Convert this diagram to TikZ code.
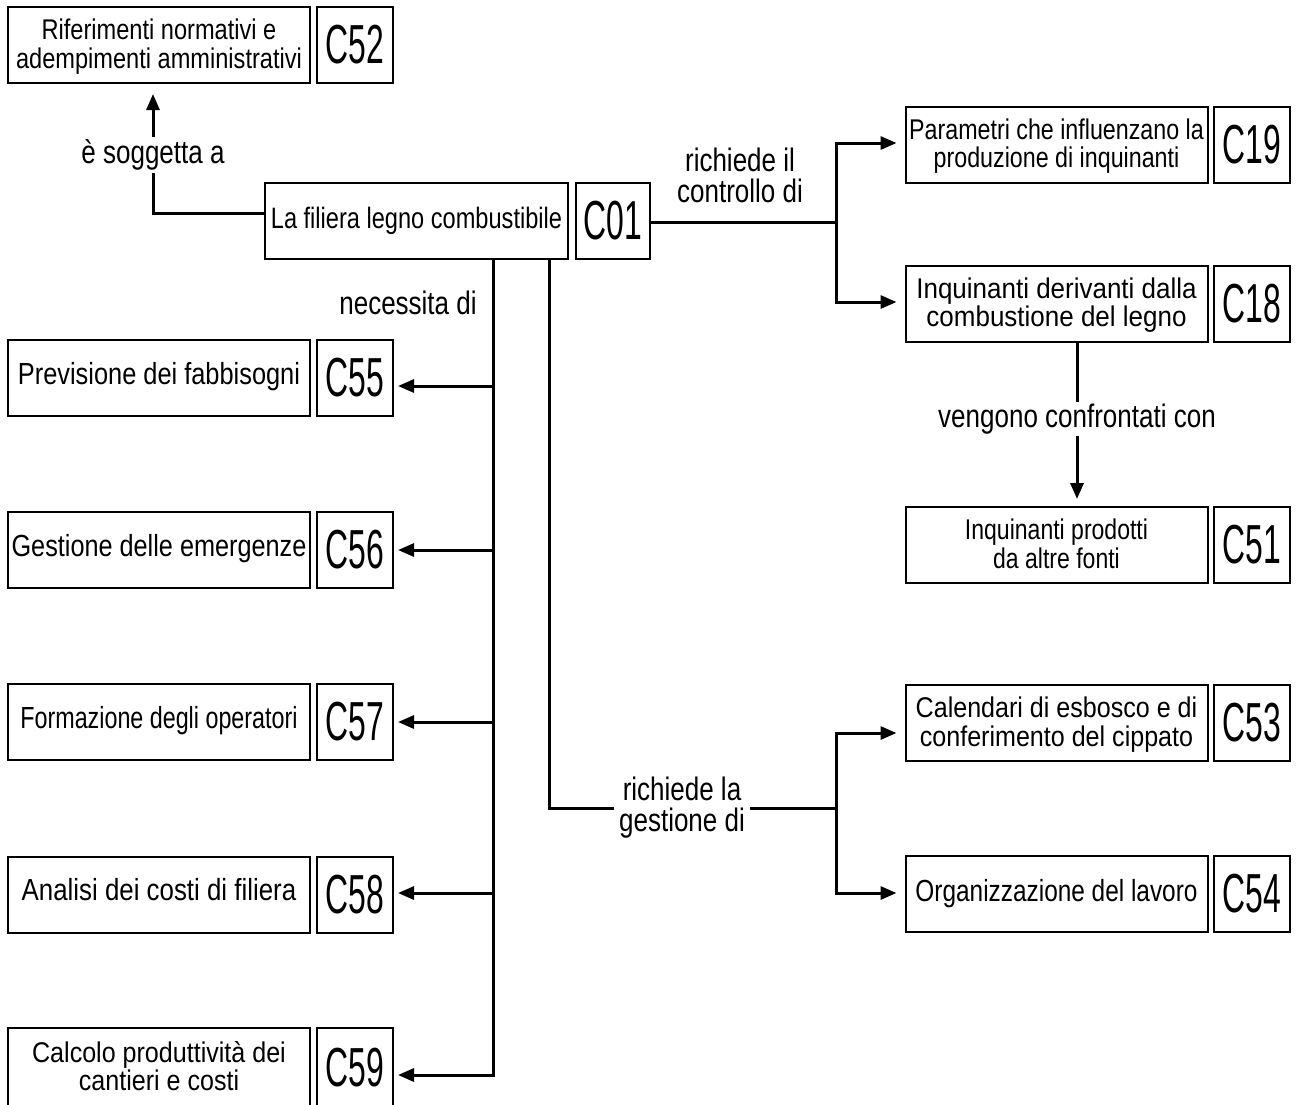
\documentclass[tikz,border=0pt]{standalone}
\usepackage{fontspec}
\usepackage{graphicx}
\setmainfont{Liberation Sans}[FakeStretch=0.8]
\newfontfamily\codefont{Liberation Sans}[FakeStretch=0.58]
\usetikzlibrary{arrows.meta,calc}
\newcommand{\sxtext}[2]{\scalebox{#1}[1]{\begin{tabular}{@{}c@{}}#2\end{tabular}}}
\newcommand{\twotext}[2]{\raisebox{-2.5pt}[\height][\depth]{\scalebox{#1}[1]{\begin{tabular}{@{}c@{}}#2\end{tabular}}}}
\begin{document}
\begin{tikzpicture}[x=1pt,y=-1pt,
  lbl/.style={draw, line width=2pt, minimum width=302pt, minimum height=76pt, inner sep=0pt, align=center, font=\fontsize{30.5}{31}\selectfont},
  two/.style={lbl, font=\fontsize{28.5}{26}\selectfont},
  code/.style={draw, line width=2pt, minimum width=76pt, minimum height=76pt, inner sep=0pt, font=\codefont\fontsize{55}{55}\selectfont},
  conn/.style={line width=3pt},
  arr/.style={conn, -{Triangle[length=16pt,width=13pt]}},
  elab/.style={font=\fontsize{32.5}{31}\selectfont, align=center, inner sep=3pt}]
\useasboundingbox (0,0) rectangle (1305,1104);

% boxes
\node[two] (t52) at (159,45) {\twotext{1.035}{Riferimenti normativi e\\adempimenti amministrativi}};
\node[code] (c52) at (355,45) {C52};
\node[lbl, minimum width=303pt, font=\fontsize{29.5}{30}\selectfont] (t01) at (416.5,220.5) {La filiera legno combustibile};
\node[code, minimum width=74pt] (c01) at (613,220.5) {C01};

\node[two] (t19) at (1056.5,144.5) {\twotext{1.02}{Parametri che influenzano la\\produzione di inquinanti}};
\node[code] (c19) at (1252,144.5) {C19};
\node[two] (t18) at (1056.5,303.5) {\twotext{1.14}{Inquinanti derivanti dalla\\combustione del legno}};
\node[code] (c18) at (1252,303.5) {C18};
\node[two] (t51) at (1056.5,545) {\twotext{1.01}{Inquinanti prodotti\\da altre fonti}};
\node[code] (c51) at (1252,545) {C51};
\node[two] (t53) at (1056.5,723) {\twotext{1.1}{Calendari di esbosco e di\\conferimento del cippato}};
\node[code] (c53) at (1252,723) {C53};
\node[lbl] (t54) at (1056.5,894) {Organizzazione del lavoro};
\node[code] (c54) at (1252,894) {C54};

\node[lbl] (t55) at (159,378) {\sxtext{1.04}{Previsione dei fabbisogni}};
\node[code] (c55) at (355,378) {C55};
\node[lbl] (t56) at (159,550) {\sxtext{1.035}{Gestione delle emergenze}};
\node[code] (c56) at (355,550) {C56};
\node[lbl] (t57) at (159,722) {\sxtext{0.955}{Formazione degli operatori}};
\node[code] (c57) at (355,722) {C57};
\node[lbl] (t58) at (159,894.5) {\sxtext{1.06}{Analisi dei costi di filiera}};
\node[code] (c58) at (355,894.5) {C58};
\node[two, minimum height=80pt] (t59) at (159,1067.5) {\twotext{1.1}{Calcolo produttività dei\\cantieri e costi}};
\node[code, minimum height=80pt] (c59) at (355,1067.5) {C59};

% è soggetta a
\coordinate (j1) at (153,213);
\draw[arr, shorten >=10pt] (t01.west |- j1) -- (j1) -- (t52.south -| j1);
\node[elab, fill=white] (l1) at (153,155) {è soggetta a};

% richiede il controllo di
\coordinate (b1) at (836,222);
\coordinate (b1t) at (836,143);
\coordinate (b1b) at (836,302);
\draw[conn] (c01.east |- b1) -- (b1);
\draw[arr, shorten >=8pt] (b1) -- (b1t) -- (b1t -| t19.west);
\draw[arr, shorten >=8pt] (b1) -- (b1b) -- (b1b -| t18.west);
\node[elab] (l2) at (740,175) {richiede il\\controllo di};

% vengono confrontati con
\coordinate (v1) at (1077,341);
\draw[arr, shorten >=7pt] (t18.south -| v1) -- (t51.north -| v1);
\node[elab, fill=white, inner sep=2pt] (l3) at (1077,419) {vengono confrontati con};

% necessita di
\coordinate (k55) at (493,386);
\coordinate (k56) at (493,550);
\coordinate (k57) at (493,722);
\coordinate (k58) at (493,893);
\coordinate (k59) at (493,1075);
\draw[arr, shorten >=4pt] (t01.south -| k59) -- (k59) -- (k59 -| c59.east);
\draw[arr, shorten >=4pt] (k55) -- (k55 -| c55.east);
\draw[arr, shorten >=4pt] (k56) -- (k56 -| c56.east);
\draw[arr, shorten >=4pt] (k57) -- (k57 -| c57.east);
\draw[arr, shorten >=4pt] (k58) -- (k58 -| c58.east);
\node[elab] (l4) at (408,303) {necessita di};

% richiede la gestione di
\coordinate (m) at (549,808);
\coordinate (b2) at (836,808);
\coordinate (b2t) at (836,733);
\coordinate (b2b) at (836,893);
\draw[conn] (t01.south -| m) -- (m) -- (b2);
\draw[arr, shorten >=8pt] (b2) -- (b2t) -- (b2t -| t53.west);
\draw[arr, shorten >=8pt] (b2) -- (b2b) -- (b2b -| t54.west);
\node[elab, fill=white, inner sep=5pt] (l5) at (682,808) {richiede la\\gestione di};
\end{tikzpicture}
\end{document}
